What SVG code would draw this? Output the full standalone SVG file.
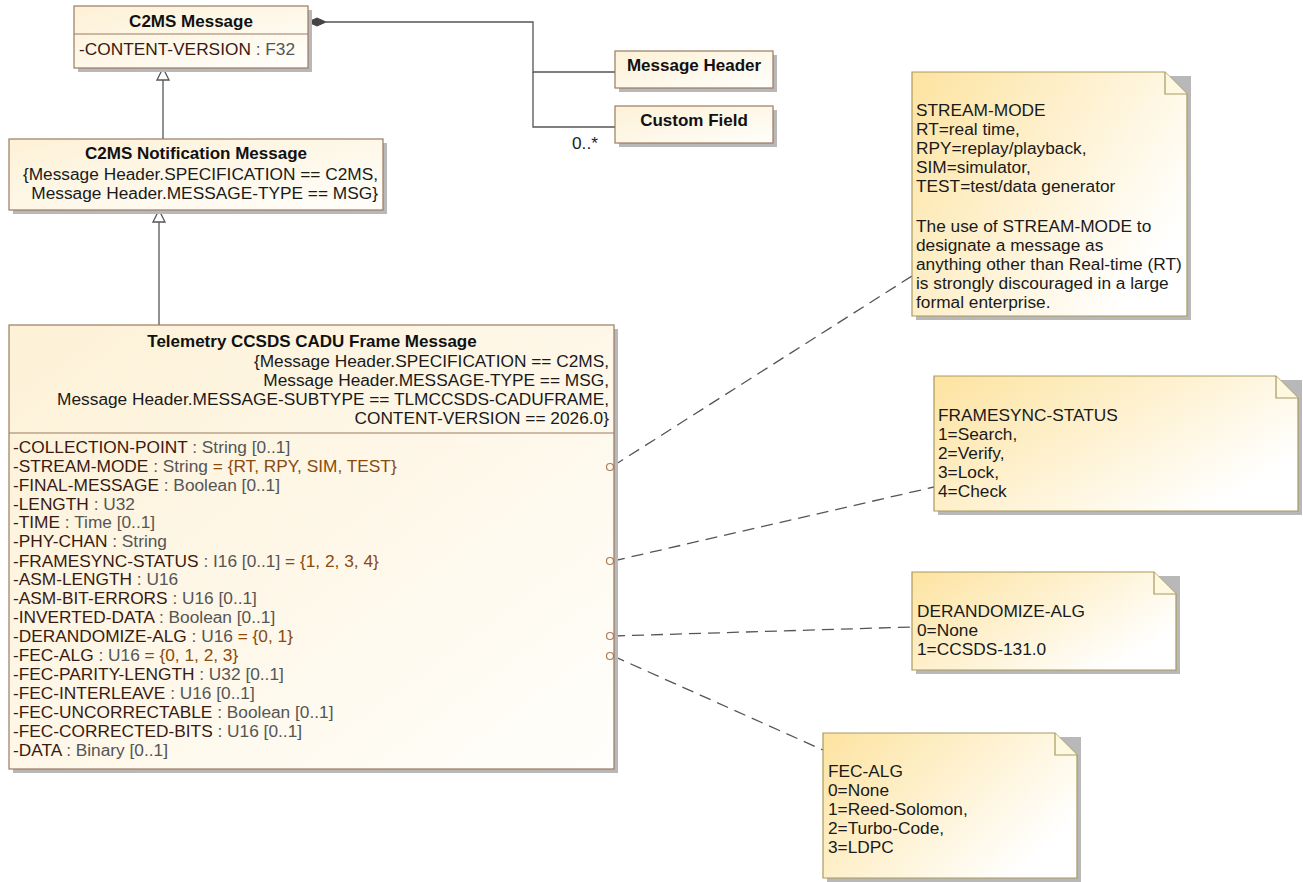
<svg xmlns="http://www.w3.org/2000/svg" width="1303" height="882" viewBox="0 0 1303 882">
<defs>
<linearGradient id="cls" x1="0" y1="0" x2="1" y2="1">
<stop offset="0" stop-color="#fdf1d6"/>
<stop offset="1" stop-color="#fffefb"/>
</linearGradient>
<linearGradient id="note" x1="0" y1="0" x2="1" y2="0.6">
<stop offset="0" stop-color="#fde3a0"/>
<stop offset="1" stop-color="#ffffff"/>
</linearGradient>
</defs>
<style>
.box{fill:url(#cls);stroke:#9c7b5f;stroke-width:1.2}
.sh{fill:#b8b8b8}
.nt{fill:url(#note);stroke:#a89a5e;stroke-width:1.2}
.fold{fill:#fff8e0;stroke:#a89a5e;stroke-width:1.2}
.t{font-family:"Liberation Sans",Arial,sans-serif;font-size:17.3px;fill:#1a1a1a}
.b{font-family:"Liberation Sans",Arial,sans-serif;font-size:17px;font-weight:bold;fill:#111}
.n{fill:#3a1a10}
.ty{fill:#555555}
.en{fill:#8a4a0c}
.ln{stroke:#555;stroke-width:1.3;fill:none}
.dl{stroke:#555;stroke-width:1.3;fill:none;stroke-dasharray:12,7}
.pin{fill:none;stroke:#b07a50;stroke-width:1.2}
</style>

<g id="connectors">
<path class="ln" d="M326,22 H533 V72 H615"/>
<path class="ln" d="M533,72 V127 H615"/>
<path d="M308,22 L317,18 L326,22 L317,26 Z" fill="#444" stroke="#444"/>
<text class="t" x="572" y="149" style="fill:#222">0..*</text>
<line class="ln" x1="163" y1="139" x2="163" y2="80"/>
<path d="M163,68 L157,80 L169,80 Z" fill="#fff" stroke="#555" stroke-width="1.3"/>
<line class="ln" x1="159" y1="325" x2="159" y2="222"/>
<path d="M159,210 L153,222 L165,222 Z" fill="#fff" stroke="#555" stroke-width="1.3"/>
<line class="dl" x1="613" y1="466" x2="912" y2="276"/>
<line class="dl" x1="613" y1="561" x2="934" y2="487"/>
<line class="dl" x1="613" y1="636" x2="912" y2="627"/>
<line class="dl" x1="613" y1="656" x2="823" y2="750"/>
</g>

<g id="c2ms-message">
<rect class="sh" x="78" y="10" width="234" height="62"/>
<rect class="box" x="74" y="6" width="234" height="62"/>
<line x1="74" y1="34" x2="308" y2="34" stroke="#9c7b5f" stroke-width="1.2"/>
<text class="b" x="191" y="27" text-anchor="middle">C2MS Message</text>
<text class="t" x="79" y="55"><tspan class="n">-CONTENT-VERSION</tspan><tspan class="ty"> : F32</tspan></text>
</g>

<g id="message-header">
<rect class="sh" x="619" y="55" width="158" height="37"/>
<rect class="box" x="615" y="51" width="158" height="37"/>
<text class="b" x="694" y="71" text-anchor="middle">Message Header</text>
</g>

<g id="custom-field">
<rect class="sh" x="619" y="110" width="158" height="37"/>
<rect class="box" x="615" y="106" width="158" height="37"/>
<text class="b" x="694" y="126" text-anchor="middle">Custom Field</text>
</g>

<g id="c2ms-notification-message">
<rect class="sh" x="13" y="143" width="374" height="71"/>
<rect class="box" x="9" y="139" width="374" height="71"/>
<text class="b" x="196" y="159" text-anchor="middle">C2MS Notification Message</text>
<text class="t" x="378" y="180" text-anchor="end">{Message Header.SPECIFICATION == C2MS,</text>
<text class="t" x="378" y="199" text-anchor="end">Message Header.MESSAGE-TYPE == MSG}</text>
</g>

<g id="telemetry-ccsds-cadu-frame-message">
<rect class="sh" x="13" y="329" width="605" height="444"/>
<rect class="box" x="9" y="325" width="605" height="444"/>
<line x1="9" y1="433" x2="614" y2="433" stroke="#9c7b5f" stroke-width="1.2"/>
<text class="b" x="312" y="347" text-anchor="middle">Telemetry CCSDS CADU Frame Message</text>
<text class="t" x="609" y="367" text-anchor="end">{Message Header.SPECIFICATION == C2MS,</text>
<text class="t" x="609" y="386" text-anchor="end">Message Header.MESSAGE-TYPE == MSG,</text>
<text class="t" x="609" y="405" text-anchor="end">Message Header.MESSAGE-SUBTYPE == TLMCCSDS-CADUFRAME,</text>
<text class="t" x="609" y="424" text-anchor="end">CONTENT-VERSION == 2026.0}</text>
<text class="t" x="13" y="453"><tspan class="n">-COLLECTION-POINT</tspan><tspan class="ty"> : String [0..1]</tspan></text>
<text class="t" x="13" y="472"><tspan class="n">-STREAM-MODE</tspan><tspan class="ty"> : String</tspan><tspan class="en"> = {RT, RPY, SIM, TEST}</tspan></text>
<text class="t" x="13" y="491"><tspan class="n">-FINAL-MESSAGE</tspan><tspan class="ty"> : Boolean [0..1]</tspan></text>
<text class="t" x="13" y="510"><tspan class="n">-LENGTH</tspan><tspan class="ty"> : U32</tspan></text>
<text class="t" x="13" y="528"><tspan class="n">-TIME</tspan><tspan class="ty"> : Time [0..1]</tspan></text>
<text class="t" x="13" y="547"><tspan class="n">-PHY-CHAN</tspan><tspan class="ty"> : String</tspan></text>
<text class="t" x="13" y="567"><tspan class="n">-FRAMESYNC-STATUS </tspan><tspan class="ty"> : I16 [0..1]</tspan><tspan class="en"> = {1, 2, 3, 4}</tspan></text>
<text class="t" x="13" y="585"><tspan class="n">-ASM-LENGTH</tspan><tspan class="ty"> : U16</tspan></text>
<text class="t" x="13" y="604"><tspan class="n">-ASM-BIT-ERRORS</tspan><tspan class="ty"> : U16 [0..1]</tspan></text>
<text class="t" x="13" y="623"><tspan class="n">-INVERTED-DATA </tspan><tspan class="ty"> : Boolean [0..1]</tspan></text>
<text class="t" x="13" y="642"><tspan class="n">-DERANDOMIZE-ALG</tspan><tspan class="ty"> : U16</tspan><tspan class="en"> = {0, 1}</tspan></text>
<text class="t" x="13" y="661"><tspan class="n">-FEC-ALG</tspan><tspan class="ty"> : U16</tspan><tspan class="en"> = {0, 1, 2, 3}</tspan></text>
<text class="t" x="13" y="680"><tspan class="n">-FEC-PARITY-LENGTH</tspan><tspan class="ty"> : U32 [0..1]</tspan></text>
<text class="t" x="13" y="699"><tspan class="n">-FEC-INTERLEAVE</tspan><tspan class="ty"> : U16 [0..1]</tspan></text>
<text class="t" x="13" y="718"><tspan class="n">-FEC-UNCORRECTABLE</tspan><tspan class="ty"> : Boolean [0..1]</tspan></text>
<text class="t" x="13" y="737"><tspan class="n">-FEC-CORRECTED-BITS</tspan><tspan class="ty"> : U16 [0..1]</tspan></text>
<text class="t" x="13" y="756"><tspan class="n">-DATA </tspan><tspan class="ty"> : Binary [0..1]</tspan></text>
<circle class="pin" cx="610" cy="467" r="3.5"/>
<circle class="pin" cx="610" cy="561" r="3.5"/>
<circle class="pin" cx="610" cy="636" r="3.5"/>
<circle class="pin" cx="610" cy="656" r="3.5"/>
</g>

<g id="note-stream-mode">
<path class="sh" d="M916,76 H1191 V320 H916 Z"/>
<path class="nt" d="M912,72 H1165 L1187,94 V316 H912 Z"/>
<path class="fold" d="M1165,72 V94 H1187"/>
<text class="t" x="916" y="116">STREAM-MODE</text>
<text class="t" x="916" y="135">RT=real time,</text>
<text class="t" x="916" y="154">RPY=replay/playback,</text>
<text class="t" x="916" y="173">SIM=simulator,</text>
<text class="t" x="916" y="192">TEST=test/data generator</text>
<text class="t" x="916" y="232">The use of STREAM-MODE to</text>
<text class="t" x="916" y="251">designate a message as</text>
<text class="t" x="916" y="270">anything other than Real-time (RT)</text>
<text class="t" x="916" y="289">is strongly discouraged in a large</text>
<text class="t" x="916" y="308">formal enterprise.</text>
</g>

<g id="note-framesync-status">
<path class="sh" d="M938,380 H1302 V515 H938 Z"/>
<path class="nt" d="M934,376 H1276 L1298,398 V511 H934 Z"/>
<path class="fold" d="M1276,376 V398 H1298"/>
<text class="t" x="938" y="421">FRAMESYNC-STATUS</text>
<text class="t" x="938" y="440">1=Search,</text>
<text class="t" x="938" y="459">2=Verify,</text>
<text class="t" x="938" y="478">3=Lock,</text>
<text class="t" x="938" y="497">4=Check</text>
</g>

<g id="note-derandomize-alg">
<path class="sh" d="M916,576 H1180 V674 H916 Z"/>
<path class="nt" d="M912,572 H1154 L1176,594 V670 H912 Z"/>
<path class="fold" d="M1154,572 V594 H1176"/>
<text class="t" x="917" y="617">DERANDOMIZE-ALG</text>
<text class="t" x="917" y="636">0=None</text>
<text class="t" x="917" y="655">1=CCSDS-131.0</text>
</g>

<g id="note-fec-alg">
<path class="sh" d="M827,737 H1081 V882 H827 Z"/>
<path class="nt" d="M823,733 H1055 L1077,755 V878 H823 Z"/>
<path class="fold" d="M1055,733 V755 H1077"/>
<text class="t" x="828" y="777">FEC-ALG</text>
<text class="t" x="828" y="796">0=None</text>
<text class="t" x="828" y="815">1=Reed-Solomon,</text>
<text class="t" x="828" y="834">2=Turbo-Code,</text>
<text class="t" x="828" y="853">3=LDPC</text>
</g>
</svg>
